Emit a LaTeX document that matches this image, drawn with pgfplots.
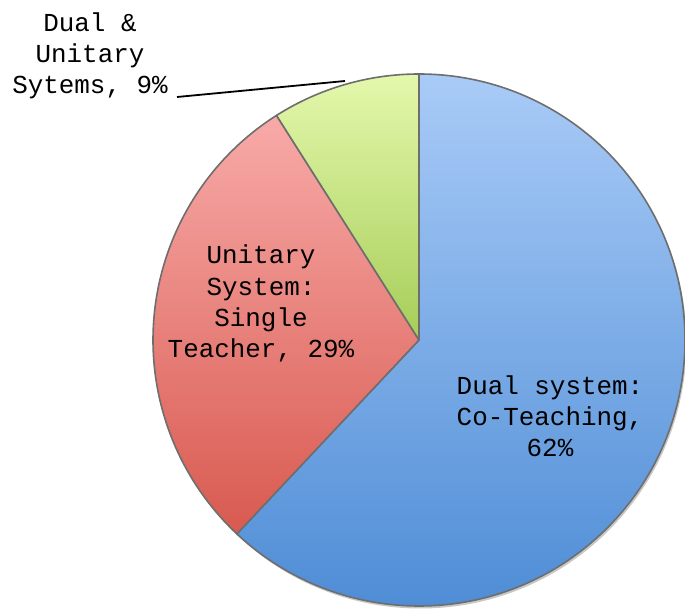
\documentclass[border=0pt]{standalone}
\usepackage{pgfplots}
\pgfplotsset{compat=1.18}
\usepackage{fontspec}
\setmainfont{Liberation Mono}
\definecolor{blueTop}{HTML}{A9CBF7}
\definecolor{blueBot}{HTML}{4F8DD6}
\definecolor{redTop}{HTML}{F8AAA8}
\definecolor{redBot}{HTML}{D85A50}
\definecolor{greenTop}{HTML}{E4F8AC}
\definecolor{greenBot}{HTML}{A6CD58}
\definecolor{edge}{HTML}{6E6E6E}
\begin{document}
\begin{tikzpicture}
% slice values (percent), clockwise from 12 o'clock
\def\vA{62}% Dual system: Co-Teaching
\def\vB{29}% Unitary System: Single Teacher
\def\vC{9}%  Dual & Unitary Sytems
\pgfmathsetmacro\aA{90-3.6*\vA}
\pgfmathsetmacro\aB{\aA-3.6*\vB}
\pgfmathsetmacro\aC{\aB-3.6*\vC}
\def\R{266bp}
\begin{axis}[
  scale only axis, width=685bp, height=611bp,
  xmin=0, xmax=685, ymin=0, ymax=611,
  hide axis, clip=false]
% shadow
\fill[black, opacity=0.22] (axis cs:420.5,268.5) circle[radius=\R];
% slices
\path[top color=blueTop, bottom color=blueBot, draw=edge, line width=1.6bp, line join=round]
  (axis cs:419,271) -- ([shift={(90:\R)}]axis cs:419,271) arc[start angle=90, end angle=\aA, radius=\R] -- cycle;
\path[top color=redTop, bottom color=redBot, draw=edge, line width=1.6bp, line join=round]
  (axis cs:419,271) -- ([shift={(\aA:\R)}]axis cs:419,271) arc[start angle=\aA, end angle=\aB, radius=\R] -- cycle;
\path[top color=greenTop, bottom color=greenBot, draw=edge, line width=1.6bp, line join=round]
  (axis cs:419,271) -- ([shift={(\aB:\R)}]axis cs:419,271) arc[start angle=\aB, end angle=\aC, radius=\R] -- cycle;
% leader line
\draw[black, line width=1.8bp] (axis cs:177,514) -- (axis cs:345,530);
% labels (anchor = baseline of last line)
\node[anchor=base, align=center, inner sep=0pt, font=\fontsize{26}{31.5}\selectfont] at (axis cs:90,517) {Dual \&\\Unitary\\Sytems, 9\%};
\node[anchor=base, align=center, inner sep=0pt, font=\fontsize{26}{31.5}\selectfont] at (axis cs:261,253) {Unitary\\System:\\Single\\Teacher, 29\%};
\node[anchor=base, align=center, inner sep=0pt, font=\fontsize{26}{31.5}\selectfont] at (axis cs:550,154) {Dual system:\\Co-Teaching,\\62\%};
\end{axis}
\pgfresetboundingbox
\path[use as bounding box] (0,0) rectangle (685bp,611bp);
\end{tikzpicture}
\end{document}
